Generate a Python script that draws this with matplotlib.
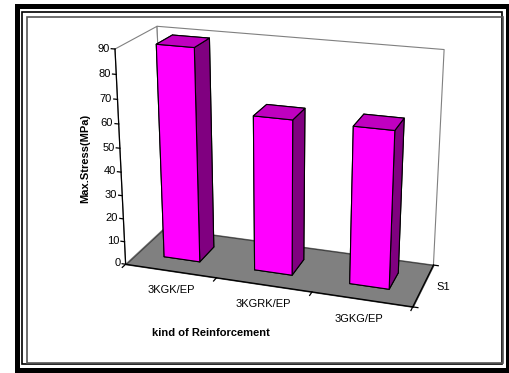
import matplotlib.pyplot as plt
from mpl_toolkits.mplot3d.art3d import Poly3DCollection
from matplotlib.patches import Rectangle

plt.rcParams['font.family'] = ['Liberation Sans', 'DejaVu Sans']

categories = ['3KGK/EP', '3KGRK/EP', '3GKG/EP']
max_stress = [90, 65, 65]  # MPa
series_name = 'S1'
z_ticks = [0, 10, 20, 30, 40, 50, 60, 70, 80, 90]

front_col = '#FF00FF'
top_col = '#C000C0'
side_col = '#800080'
floor_col = '#808080'

fig = plt.figure(figsize=(5.1, 3.73), dpi=100)

# frame around the whole chart
fig.patches.append(Rectangle((16.5 / 510, 3.5 / 373), 492 / 510, 363.5 / 373, transform=fig.transFigure,
                             fill=False, lw=3.6, ec='black', zorder=0))
fig.patches.append(Rectangle((22 / 510, 9 / 373), 480 / 510, 352 / 373, transform=fig.transFigure,
                             fill=False, lw=1.2, ec='black', zorder=0))
fig.patches.append(Rectangle((27 / 510, 10 / 373), 476 / 510, 346 / 373, transform=fig.transFigure,
                             fill=False, lw=1.2, ec='#555555', zorder=0))

ax = fig.add_axes([0.038, 0.056, 1.0, 1.0], projection='3d', computed_zorder=False)
ax.set_axis_off()
ax.patch.set_alpha(0)
ax.set_proj_type('persp', focal_length=0.58)
ax.view_init(elev=20, azim=-71.5)
n = len(categories)
zmax = z_ticks[-1]
ax.set_xlim(0, n)
ax.set_ylim(0, 1)
ax.set_zlim(0, zmax)
ax.set_box_aspect((3.05, 1, 2.31), zoom=1.02)

# floor and walls
floor = [(0, 0, 0), (n, 0, 0), (n, 1, 0), (0, 1, 0)]
back = [(0, 1, 0), (n, 1, 0), (n, 1, zmax), (0, 1, zmax)]
left = [(0, 0, 0), (0, 1, 0), (0, 1, zmax), (0, 0, zmax)]
ax.add_collection3d(Poly3DCollection([back, left], facecolors='white', edgecolors='#808080', linewidths=0.8))
ax.add_collection3d(Poly3DCollection([floor], facecolors=floor_col, edgecolors='#404040', linewidths=0.8))

# value axis on the front-left edge
ax.plot([0, 0], [0, 0], [0, zmax], color='black', lw=0.9)
for z in z_ticks:
    ax.plot([-0.04, 0], [0, 0], [z, z], color='black', lw=0.9)
    ax.text(-0.06, 0, z, str(z), ha='right', va='center', fontsize=8)

# category axis along the front edge of the floor
ax.plot([0, n], [0, 0], [0, 0], color='black', lw=0.9)
for i in range(n + 1):
    ax.plot([i, i], [0, -0.08], [0, 0], color='black', lw=0.9)
for i, name in enumerate(categories):
    ax.text(i + 0.68 - 0.05 * i, -0.4, 0, name, ha='center', va='center', fontsize=8)

# series axis along the right edge of the floor
ax.plot([n, n], [0, 1], [0, 0], color='black', lw=0.9)
for y in (0, 1):
    ax.plot([n, n + 0.05], [y, y], [0, 0], color='black', lw=0.9)
ax.text(n + 0.13, 0.5, 0, series_name, ha='left', va='center', fontsize=8)

# columns
w, d = 0.4, 0.4
xs = [i + 0.5 - w / 2 for i in range(n)]
ys = [0.5 - d / 2] * n
face_colors = []
for _ in range(n):
    # face order in bar3d: bottom, top, front, back, left, right
    face_colors += [floor_col, top_col, front_col, side_col, side_col, side_col]
ax.bar3d(xs, ys, [0] * n, w, d, max_stress, color=face_colors, shade=False,
         edgecolor='black', linewidth=0.8)

fig.text(85 / 510, 1 - 158 / 373, 'Max.Stress(MPa)', rotation=90, ha='center', va='center',
         fontsize=8, fontweight='bold')
fig.text(211 / 510, 1 - 333 / 373, 'kind of Reinforcement', ha='center', va='center',
         fontsize=8, fontweight='bold')

fig.savefig('out.png', dpi=100)
